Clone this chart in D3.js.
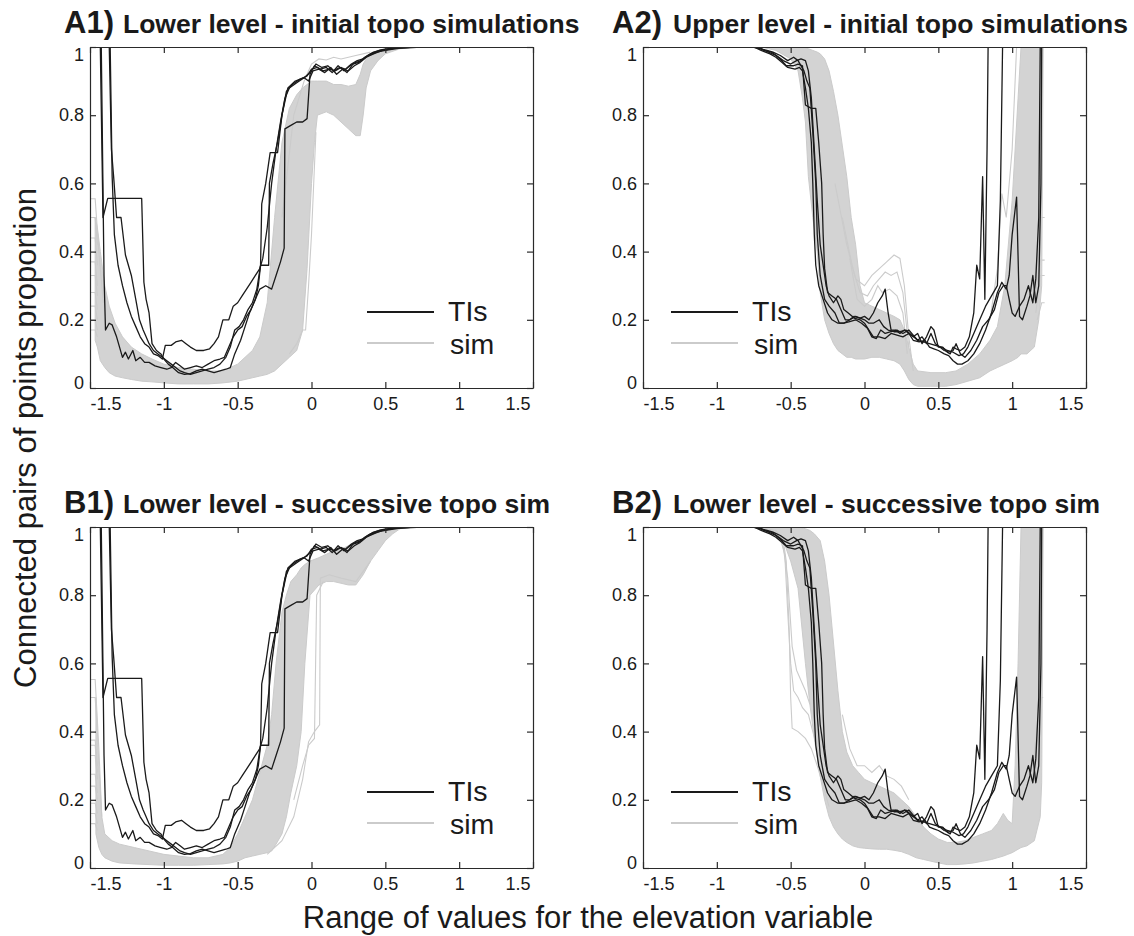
<!DOCTYPE html>
<html>
<head>
<meta charset="utf-8">
<script src="https://cdn.jsdelivr.net/npm/d3@7"></script>
<style>
  body { margin: 0; background: #fff; }
  text { font-family: "Liberation Sans", Arial, Helvetica, sans-serif; fill: #1a1a1a; }
</style>
</head>
<body>
<svg id="chart" width="1134" height="936"></svg>
<script>
// ---- data ----
const xTicks = [-1.5, -1, -0.5, 0, 0.5, 1, 1.5];
const yTicks = [0, 0.2, 0.4, 0.6, 0.8, 1];
const panelTags = ["A1)", "A2)", "B1)", "B2)"];
const panelTitles = [
  "Lower level - initial topo simulations",
  "Upper level - initial topo simulations",
  "Lower level - successive topo sim",
  "Lower level - successive topo sim"
];
const legendLabels = ["TIs", "sim"];
const xLabel = "Range of values for the elevation variable";
const yLabel = "Connected pairs of points proportion";

// training images, lower level (A1, B1)  [x, proportion]
const tiLower1 = [[-1.432,1.05],[-1.412,0.5],[-1.38,0.556],[-1.15,0.556],[-1.135,0.31],[-1.12,0.26],[-1.1,0.22],[-1.08,0.13],[-1.05,0.11],[-1.02,0.1],[-1,0.085],[-0.97,0.07],[-0.94,0.06],[-0.9,0.045],[-0.86,0.04],[-0.82,0.042],[-0.78,0.05],[-0.74,0.055],[-0.7,0.05],[-0.66,0.045],[-0.62,0.05],[-0.58,0.055],[-0.55,0.06],[-0.52,0.1],[-0.48,0.14],[-0.45,0.18],[-0.42,0.22],[-0.38,0.26],[-0.35,0.29],[-0.31,0.3],[-0.27,0.29],[-0.24,0.33],[-0.21,0.37],[-0.185,0.41],[-0.18,0.76],[-0.14,0.77],[-0.1,0.78],[-0.06,0.78],[-0.03,0.79],[-0.01,0.92],[0.02,0.945],[0.06,0.935],[0.1,0.94],[0.14,0.925],[0.18,0.945],[0.22,0.93],[0.26,0.945],[0.3,0.955],[0.34,0.96],[0.38,0.975],[0.42,0.985],[0.48,0.992],[0.55,0.997],[0.65,1],[1.37,1]];
const tiLower2 = [[-1.425,1.05],[-1.405,0.33],[-1.395,0.17],[-1.37,0.19],[-1.35,0.185],[-1.32,0.15],[-1.3,0.12],[-1.28,0.09],[-1.26,0.105],[-1.24,0.085],[-1.21,0.11],[-1.19,0.08],[-1.16,0.09],[-1.13,0.075],[-1.1,0.075],[-1.06,0.065],[-1.02,0.06],[-0.98,0.055],[-0.95,0.06],[-0.92,0.075],[-0.89,0.065],[-0.86,0.055],[-0.82,0.06],[-0.78,0.065],[-0.74,0.06],[-0.7,0.07],[-0.66,0.08],[-0.62,0.085],[-0.59,0.09],[-0.56,0.12],[-0.53,0.15],[-0.5,0.17],[-0.47,0.18],[-0.44,0.21],[-0.41,0.23],[-0.38,0.26],[-0.36,0.3],[-0.345,0.36],[-0.29,0.36],[-0.285,0.6],[-0.26,0.66],[-0.23,0.72],[-0.2,0.8],[-0.17,0.87],[-0.13,0.89],[-0.08,0.905],[-0.03,0.915],[0,0.935],[0.04,0.94],[0.08,0.93],[0.12,0.935],[0.16,0.93],[0.2,0.94],[0.24,0.925],[0.28,0.95],[0.32,0.955],[0.36,0.97],[0.4,0.98],[0.46,0.99],[0.55,0.997],[0.7,1],[1.37,1]];
const tiLower3 = [[-1.372,1.05],[-1.355,0.7],[-1.34,0.62],[-1.32,0.5],[-1.29,0.5],[-1.26,0.39],[-1.22,0.33],[-1.19,0.26],[-1.165,0.2],[-1.14,0.17],[-1.12,0.15],[-1.1,0.13],[-1.07,0.11],[-1.04,0.1],[-1.01,0.09],[-0.98,0.08],[-0.95,0.07],[-0.92,0.06],[-0.89,0.05],[-0.86,0.045],[-0.82,0.04],[-0.78,0.045],[-0.74,0.05],[-0.7,0.055],[-0.66,0.06],[-0.62,0.07],[-0.58,0.09],[-0.55,0.12],[-0.52,0.17],[-0.49,0.18],[-0.46,0.2],[-0.43,0.23],[-0.4,0.25],[-0.37,0.29],[-0.345,0.36],[-0.337,0.54],[-0.31,0.6],[-0.28,0.69],[-0.23,0.69],[-0.2,0.8],[-0.16,0.88],[-0.11,0.9],[-0.05,0.91],[-0.01,0.925],[0.03,0.95],[0.07,0.94],[0.11,0.945],[0.15,0.93],[0.19,0.94],[0.23,0.935],[0.27,0.95],[0.31,0.96],[0.35,0.965],[0.39,0.975],[0.44,0.985],[0.5,0.99],[0.6,0.997],[0.75,1],[1.37,1]];
const tiLower4 = [[-1.365,1.05],[-1.35,0.62],[-1.335,0.45],[-1.31,0.36],[-1.28,0.3],[-1.25,0.25],[-1.22,0.21],[-1.19,0.18],[-1.16,0.15],[-1.13,0.13],[-1.1,0.12],[-1.07,0.1],[-1.04,0.095],[-1.01,0.085],[-0.99,0.125],[-0.95,0.125],[-0.92,0.135],[-0.88,0.14],[-0.85,0.13],[-0.82,0.12],[-0.78,0.11],[-0.73,0.11],[-0.69,0.115],[-0.66,0.13],[-0.63,0.15],[-0.6,0.2],[-0.56,0.2],[-0.53,0.24],[-0.5,0.25],[-0.47,0.27],[-0.44,0.29],[-0.41,0.31],[-0.38,0.33],[-0.35,0.35],[-0.33,0.38],[-0.3,0.47],[-0.27,0.6],[-0.24,0.7],[-0.21,0.78],[-0.18,0.85],[-0.15,0.88],[-0.1,0.895],[-0.05,0.91],[-0.02,0.9],[0.01,0.93],[0.05,0.935],[0.09,0.925],[0.13,0.94],[0.17,0.92],[0.21,0.935],[0.25,0.93],[0.29,0.945],[0.33,0.955],[0.37,0.97],[0.42,0.98],[0.48,0.99],[0.56,0.996],[0.7,1],[1.37,1]];

// training images, upper level (A2, B2)
const tiUpper1 = [[-1.48,1],[-0.74,1],[-0.7,0.995],[-0.65,0.985],[-0.6,0.975],[-0.56,0.96],[-0.53,0.945],[-0.48,0.945],[-0.45,0.95],[-0.42,0.945],[-0.4,0.83],[-0.36,0.82],[-0.33,0.82],[-0.31,0.72],[-0.29,0.6],[-0.28,0.45],[-0.27,0.35],[-0.25,0.28],[-0.22,0.27],[-0.19,0.26],[-0.16,0.23],[-0.13,0.2],[-0.1,0.2],[-0.06,0.21],[-0.03,0.205],[0,0.21],[0.03,0.2],[0.06,0.22],[0.09,0.25],[0.12,0.27],[0.14,0.29],[0.16,0.22],[0.18,0.17],[0.21,0.17],[0.24,0.16],[0.27,0.17],[0.3,0.16],[0.33,0.15],[0.36,0.16],[0.39,0.13],[0.42,0.15],[0.45,0.18],[0.47,0.17],[0.5,0.12],[0.53,0.12],[0.56,0.105],[0.58,0.1],[0.6,0.12],[0.62,0.115],[0.65,0.11],[0.68,0.12],[0.71,0.15],[0.74,0.22],[0.76,0.36],[0.78,0.32],[0.8,0.62],[0.815,0.26],[0.83,0.7],[0.837,1],[1.38,1]];
const tiUpper2 = [[-1.48,1],[-0.76,1],[-0.72,0.997],[-0.66,0.99],[-0.62,0.985],[-0.57,0.975],[-0.52,0.96],[-0.48,0.97],[-0.45,0.96],[-0.41,0.93],[-0.39,0.9],[-0.37,0.88],[-0.35,0.75],[-0.33,0.6],[-0.32,0.45],[-0.3,0.33],[-0.27,0.26],[-0.24,0.24],[-0.2,0.22],[-0.17,0.19],[-0.14,0.19],[-0.1,0.2],[-0.07,0.21],[-0.03,0.205],[0,0.2],[0.03,0.19],[0.06,0.19],[0.1,0.2],[0.13,0.18],[0.16,0.17],[0.2,0.165],[0.24,0.165],[0.28,0.17],[0.32,0.155],[0.36,0.14],[0.4,0.135],[0.44,0.13],[0.48,0.125],[0.52,0.12],[0.56,0.11],[0.6,0.105],[0.64,0.095],[0.67,0.1],[0.7,0.12],[0.74,0.16],[0.78,0.2],[0.82,0.24],[0.86,0.27],[0.9,0.3],[0.92,0.55],[0.935,1],[1.38,1]];
const tiUpper3 = [[-1.48,1],[-0.73,1],[-0.68,0.99],[-0.63,0.985],[-0.58,0.97],[-0.55,0.96],[-0.5,0.95],[-0.46,0.96],[-0.43,0.965],[-0.4,0.96],[-0.38,0.93],[-0.36,0.85],[-0.34,0.7],[-0.32,0.55],[-0.3,0.42],[-0.28,0.36],[-0.26,0.3],[-0.24,0.27],[-0.21,0.25],[-0.18,0.27],[-0.16,0.26],[-0.14,0.23],[-0.11,0.22],[-0.07,0.205],[-0.03,0.2],[0,0.19],[0.03,0.17],[0.06,0.15],[0.1,0.15],[0.14,0.145],[0.18,0.16],[0.22,0.155],[0.26,0.15],[0.3,0.16],[0.33,0.14],[0.37,0.135],[0.41,0.14],[0.44,0.12],[0.47,0.115],[0.5,0.11],[0.54,0.1],[0.57,0.095],[0.6,0.08],[0.63,0.07],[0.66,0.07],[0.7,0.08],[0.74,0.1],[0.78,0.13],[0.82,0.17],[0.86,0.22],[0.9,0.28],[0.93,0.31],[0.96,0.29],[0.98,0.33],[1,0.45],[1.03,0.56],[1.05,0.21],[1.07,0.2],[1.1,0.24],[1.12,0.27],[1.14,0.33],[1.16,0.25],[1.18,0.3],[1.195,0.6],[1.2,1],[1.38,1]];
const tiUpper4 = [[-1.48,1],[-0.75,1],[-0.7,0.99],[-0.64,0.98],[-0.6,0.97],[-0.56,0.955],[-0.52,0.94],[-0.47,0.935],[-0.44,0.94],[-0.42,0.93],[-0.4,0.88],[-0.38,0.82],[-0.36,0.72],[-0.35,0.6],[-0.34,0.45],[-0.33,0.36],[-0.31,0.3],[-0.28,0.26],[-0.25,0.22],[-0.22,0.2],[-0.18,0.19],[-0.14,0.19],[-0.1,0.195],[-0.06,0.2],[-0.02,0.19],[0.02,0.175],[0.05,0.15],[0.08,0.145],[0.11,0.17],[0.14,0.16],[0.18,0.165],[0.22,0.17],[0.26,0.16],[0.3,0.17],[0.33,0.155],[0.36,0.14],[0.39,0.15],[0.42,0.13],[0.45,0.16],[0.48,0.13],[0.51,0.12],[0.54,0.11],[0.57,0.105],[0.6,0.11],[0.62,0.13],[0.65,0.1],[0.68,0.09],[0.72,0.11],[0.76,0.14],[0.8,0.18],[0.84,0.2],[0.88,0.23],[0.91,0.28],[0.94,0.3],[0.96,0.3],[0.98,0.26],[1,0.22],[1.02,0.21],[1.05,0.24],[1.08,0.26],[1.11,0.3],[1.14,0.25],[1.16,0.32],[1.18,0.5],[1.19,1],[1.38,1]];

// simulation bundles: [x, lowest sim, highest sim]
const simBandA1 = [[-1.465,0.14,0.5],[-1.45,0.12,0.47],[-1.43,0.08,0.4],[-1.4,0.06,0.3],[-1.37,0.045,0.24],[-1.33,0.035,0.19],[-1.28,0.03,0.15],[-1.22,0.025,0.12],[-1.15,0.02,0.1],[-1.08,0.018,0.085],[-1,0.015,0.07],[-0.9,0.012,0.06],[-0.8,0.012,0.055],[-0.7,0.012,0.05],[-0.6,0.015,0.05],[-0.5,0.02,0.07],[-0.45,0.025,0.09],[-0.4,0.03,0.11],[-0.35,0.035,0.15],[-0.3,0.04,0.25],[-0.25,0.05,0.5],[-0.2,0.07,0.72],[-0.15,0.09,0.82],[-0.1,0.11,0.86],[-0.06,0.17,0.88],[-0.03,0.35,0.89],[0,0.6,0.9],[0.02,0.72,0.9],[0.04,0.8,0.9],[0.1,0.81,0.9],[0.15,0.8,0.89],[0.2,0.78,0.89],[0.25,0.76,0.885],[0.3,0.74,0.89],[0.33,0.74,0.92],[0.35,0.8,0.95],[0.37,0.88,0.965],[0.4,0.93,0.975],[0.45,0.96,0.99],[0.5,0.98,0.995],[0.6,0.995,1],[0.75,1,1]];
const simBandA2 = [[-1.5,1,1],[-0.7,1,1],[-0.6,0.99,1],[-0.5,0.965,1],[-0.45,0.93,1],[-0.42,0.85,1],[-0.4,0.78,0.998],[-0.38,0.62,0.995],[-0.35,0.5,0.99],[-0.32,0.4,0.985],[-0.3,0.28,0.98],[-0.27,0.2,0.965],[-0.24,0.16,0.93],[-0.21,0.13,0.87],[-0.18,0.11,0.8],[-0.15,0.1,0.71],[-0.12,0.09,0.62],[-0.09,0.09,0.5],[-0.06,0.085,0.42],[-0.03,0.085,0.3],[0,0.085,0.25],[0.05,0.09,0.24],[0.1,0.09,0.23],[0.15,0.085,0.22],[0.2,0.08,0.21],[0.24,0.07,0.2],[0.27,0.05,0.17],[0.3,0.025,0.12],[0.33,0.01,0.07],[0.36,0.005,0.05],[0.45,0.005,0.045],[0.55,0.005,0.045],[0.62,0.01,0.05],[0.7,0.02,0.07],[0.78,0.03,0.1],[0.85,0.05,0.14],[0.9,0.06,0.18],[0.95,0.07,0.3],[1,0.08,0.55],[1.04,0.09,0.85],[1.06,0.1,1],[1.1,0.1,1],[1.15,0.12,1],[1.18,0.2,1],[1.2,0.3,1],[1.21,1,1]];
const simBandB1 = [[-1.46,0.1,0.5],[-1.44,0.06,0.3],[-1.42,0.04,0.15],[-1.4,0.03,0.1],[-1.35,0.02,0.08],[-1.3,0.015,0.07],[-1.2,0.012,0.06],[-1.1,0.01,0.05],[-1,0.008,0.04],[-0.9,0.008,0.035],[-0.8,0.008,0.03],[-0.7,0.01,0.03],[-0.6,0.012,0.04],[-0.55,0.015,0.06],[-0.5,0.02,0.1],[-0.45,0.03,0.15],[-0.4,0.035,0.2],[-0.35,0.04,0.28],[-0.3,0.045,0.36],[-0.27,0.05,0.45],[-0.24,0.07,0.6],[-0.2,0.1,0.75],[-0.17,0.15,0.8],[-0.14,0.22,0.84],[-0.1,0.3,0.86],[-0.07,0.4,0.88],[-0.045,0.6,0.89],[-0.01,0.8,0.9],[0.05,0.83,0.91],[0.1,0.84,0.92],[0.15,0.84,0.93],[0.2,0.835,0.935],[0.25,0.83,0.945],[0.3,0.83,0.955],[0.35,0.86,0.965],[0.4,0.9,0.978],[0.45,0.93,0.99],[0.5,0.96,0.995],[0.55,0.98,1],[0.6,0.995,1],[0.7,1,1]];
const simBandB2 = [[-1.5,1,1],[-0.75,1,1],[-0.65,0.99,1],[-0.55,0.96,1],[-0.5,0.9,1],[-0.45,0.82,1],[-0.4,0.6,0.995],[-0.37,0.48,0.99],[-0.34,0.38,0.98],[-0.3,0.27,0.96],[-0.27,0.2,0.9],[-0.24,0.15,0.8],[-0.21,0.12,0.66],[-0.18,0.1,0.52],[-0.15,0.085,0.4],[-0.12,0.075,0.34],[-0.08,0.065,0.3],[-0.04,0.06,0.28],[0,0.058,0.26],[0.05,0.056,0.25],[0.1,0.055,0.24],[0.15,0.055,0.23],[0.2,0.052,0.22],[0.25,0.048,0.2],[0.3,0.04,0.18],[0.35,0.03,0.15],[0.4,0.025,0.12],[0.45,0.02,0.1],[0.5,0.015,0.085],[0.56,0.01,0.075],[0.62,0.01,0.075],[0.68,0.012,0.08],[0.74,0.015,0.09],[0.8,0.02,0.1],[0.86,0.025,0.11],[0.9,0.03,0.13],[0.94,0.035,0.16],[0.97,0.04,0.14],[1,0.045,0.13],[1.02,0.05,0.3],[1.04,0.055,0.6],[1.06,0.06,1],[1.1,0.065,1],[1.15,0.08,1],[1.19,0.15,1],[1.2,0.25,1],[1.21,1,1]];

// single simulations standing out of the bundles
const simLinesA1 = [
  [[-1.5,0.555],[-1.465,0.555],[-1.44,0.4],[-1.41,0.25]],
  [[-1.5,0.5],[-1.465,0.5],[-1.45,0.42]],
  [[-1.5,0.44],[-1.465,0.44],[-1.45,0.36]],
  [[-1.5,0.37],[-1.465,0.37],[-1.45,0.3]],
  [[-1.5,0.33],[-1.465,0.33],[-1.45,0.27]],
  [[-1.5,0.28],[-1.465,0.28],[-1.45,0.23]],
  [[-1.5,0.24],[-1.465,0.24],[-1.45,0.2]],
  [[-1.5,0.2],[-1.465,0.2],[-1.45,0.17]],
  [[-1.5,0.17],[-1.465,0.17],[-1.45,0.15]],
  [[-0.2,0.5],[-0.12,0.8],[-0.05,0.9],[0,0.95],[0.05,0.965],[0.1,0.962],[0.15,0.97],[0.2,0.965],[0.25,0.97],[0.3,0.975],[0.4,0.985]],
  [[-0.15,0.1],[-0.1,0.13],[-0.06,0.17],[-0.04,0.17],[-0.02,0.3],[0,0.45],[0.03,0.75]]
];
const simLinesA2 = [
  [[-0.2,0.6],[-0.12,0.42],[-0.06,0.32],[0,0.3],[0.05,0.33],[0.1,0.35],[0.15,0.37],[0.2,0.39],[0.24,0.38],[0.27,0.3],[0.3,0.15],[0.33,0.05]],
  [[-0.15,0.5],[-0.08,0.35],[-0.03,0.28],[0.02,0.27],[0.06,0.3],[0.1,0.32],[0.14,0.34],[0.18,0.33],[0.22,0.34],[0.26,0.28],[0.3,0.12]],
  [[-0.1,0.38],[-0.05,0.26],[0,0.24],[0.05,0.26],[0.09,0.3],[0.12,0.28],[0.17,0.29],[0.22,0.27],[0.26,0.22],[0.29,0.1]],
  [[0.85,0.2],[0.9,0.35],[0.93,0.57],[0.96,0.5],[1,0.7],[1.03,1]],
  [[1.15,0.3],[1.19,0.5],[1.22,0.5]],
  [[1.15,0.25],[1.19,0.375],[1.22,0.375]],
  [[1.16,0.22],[1.19,0.33],[1.22,0.33]],
  [[1.17,0.2],[1.2,0.25],[1.22,0.25]]
];
const simLinesB1 = [
  [[-1.5,0.553],[-1.465,0.553],[-1.44,0.35],[-1.42,0.15]],
  [[-1.5,0.5],[-1.465,0.5],[-1.45,0.4]],
  [[-1.5,0.375],[-1.465,0.375],[-1.45,0.3]],
  [[-1.5,0.36],[-1.465,0.36],[-1.45,0.28]],
  [[-1.5,0.33],[-1.465,0.33],[-1.45,0.26]],
  [[-1.5,0.275],[-1.465,0.275],[-1.45,0.22]],
  [[-1.5,0.24],[-1.465,0.24],[-1.45,0.2]],
  [[-1.5,0.19],[-1.465,0.19],[-1.45,0.16]],
  [[-1.5,0.16],[-1.465,0.16],[-1.45,0.13]],
  [[-1.5,0.13],[-1.465,0.13],[-1.45,0.11]],
  [[-0.3,0.04],[-0.2,0.08],[-0.12,0.15],[-0.06,0.26],[-0.02,0.37],[0.02,0.4],[0.055,0.42],[0.06,0.85],[0.12,0.86],[0.2,0.85],[0.3,0.84],[0.4,0.9]],
  [[-0.12,0.2],[-0.06,0.3],[-0.02,0.36],[0.02,0.38],[0.035,0.8],[0.08,0.84]]
];
const simLinesB2 = [
  [[-0.75,1],[-0.6,0.99],[-0.55,0.96],[-0.53,0.9],[-0.51,0.7],[-0.5,0.5],[-0.49,0.41],[-0.45,0.4],[-0.4,0.38],[-0.36,0.35],[-0.32,0.3],[-0.28,0.24],[-0.24,0.18]],
  [[-0.7,1],[-0.58,0.98],[-0.54,0.92],[-0.52,0.75],[-0.5,0.6],[-0.48,0.52],[-0.45,0.5],[-0.42,0.47],[-0.38,0.45],[-0.35,0.4],[-0.3,0.32],[-0.26,0.25]],
  [[-0.65,0.99],[-0.56,0.97],[-0.52,0.85],[-0.49,0.65],[-0.46,0.58],[-0.43,0.55],[-0.4,0.52],[-0.37,0.48]],
  [[-0.15,0.45],[-0.1,0.35],[-0.05,0.3],[0,0.3],[0.05,0.28],[0.1,0.3],[0.15,0.27],[0.2,0.26],[0.25,0.24],[0.3,0.2]],
  [[1.14,0.3],[1.18,0.45],[1.2,0.5],[1.21,0.5]]
];

// ---- layout ----
const W = 443, H = 341;
const panels = [
  {left: 90,  top: 47,  tagX: 64,  titleX: 123, legendX: 367, ti: [tiLower1, tiLower2, tiLower3, tiLower4], band: simBandA1, sims: simLinesA1},
  {left: 643, top: 47,  tagX: 612, titleX: 673, legendX: 671, ti: [tiUpper1, tiUpper2, tiUpper3, tiUpper4], band: simBandA2, sims: simLinesA2},
  {left: 90,  top: 527, tagX: 64,  titleX: 123, legendX: 367, ti: [tiLower1, tiLower2, tiLower3, tiLower4], band: simBandB1, sims: simLinesB1},
  {left: 643, top: 527, tagX: 612, titleX: 673, legendX: 671, ti: [tiUpper1, tiUpper2, tiUpper3, tiUpper4], band: simBandB2, sims: simLinesB2}
];

const svg = d3.select("#chart");
const simColor = "#cbcbcb", tiColor = "#1a1a1a", axisColor = "#2a2a2a";

panels.forEach((p, i) => {
  const x = d3.scaleLinear().domain([-1.5, 1.5]).range([p.left, p.left + W]);
  const y = d3.scaleLinear().domain([0, 1]).range([p.top + H, p.top]);
  const g = svg.append("g");

  g.append("clipPath").attr("id", "clip" + i)
    .append("rect").attr("x", p.left).attr("y", p.top).attr("width", W).attr("height", H);
  const plot = g.append("g").attr("clip-path", `url(#clip${i})`);

  //sim bundle
  const area = d3.area().x(d => x(d[0])).y0(d => y(d[1])).y1(d => y(d[2]));
  plot.append("path").datum(p.band).attr("d", area)
    .attr("fill", "#d3d3d3").attr("stroke", simColor).attr("stroke-width", 1);

  const line = d3.line().x(d => x(d[0])).y(d => y(d[1]));
  plot.selectAll(".sim").data(p.sims).join("path").attr("class", "sim")
    .attr("d", line).attr("fill", "none").attr("stroke", simColor).attr("stroke-width", 1.1);

  //TIs on top
  plot.selectAll(".ti").data(p.ti).join("path").attr("class", "ti")
    .attr("d", line).attr("fill", "none").attr("stroke", tiColor).attr("stroke-width", 1.3)
    .attr("stroke-linejoin", "round");

  //legend
  const ly = p.top + 265;
  g.append("line").attr("x1", p.legendX).attr("x2", p.legendX + 67).attr("y1", ly).attr("y2", ly)
    .attr("stroke", tiColor).attr("stroke-width", 1.8);
  g.append("line").attr("x1", p.legendX).attr("x2", p.legendX + 67).attr("y1", ly + 31).attr("y2", ly + 31)
    .attr("stroke", simColor).attr("stroke-width", 1.8);
  g.append("text").attr("x", p.legendX + 81).attr("y", ly + 9).attr("font-size", 28.5).text(legendLabels[0]);
  g.append("text").attr("x", p.legendX + 83).attr("y", ly + 42).attr("font-size", 28.5).text(legendLabels[1]);

  //axes, ticks inside on all four sides
  const fmt = d => String(d);
  const bx = g.append("g").attr("transform", `translate(0,${p.top + H})`)
    .call(d3.axisBottom(x).tickValues(xTicks).tickSize(-6).tickSizeOuter(0).tickPadding(9).tickFormat(fmt));
  bx.selectAll("text").filter((d, k) => k === 0).attr("text-anchor", "start");
  bx.selectAll("text").filter((d, k) => k === xTicks.length - 1).attr("text-anchor", "end").attr("x", -3);

  const ly2 = g.append("g").attr("transform", `translate(${p.left},0)`)
    .call(d3.axisLeft(y).tickValues(yTicks).tickSize(-6).tickSizeOuter(0).tickPadding(6).tickFormat(fmt));
  ly2.selectAll("text").filter(d => d === 1).attr("y", 8);
  ly2.selectAll("text").filter(d => d === 0).attr("y", -5);

  g.append("g").attr("transform", `translate(0,${p.top})`)
    .call(d3.axisTop(x).tickValues(xTicks).tickSize(-6).tickSizeOuter(0).tickFormat(""));
  g.append("g").attr("transform", `translate(${p.left + W},0)`)
    .call(d3.axisRight(y).tickValues(yTicks).tickSize(-6).tickSizeOuter(0).tickFormat(""));

  g.selectAll(".domain, .tick line").attr("stroke", axisColor).attr("stroke-width", 1.2);
  g.selectAll(".tick text").attr("font-size", 18).attr("font-family", '"Liberation Sans", Arial, sans-serif').attr("fill", "#1a1a1a");

  //panel title
  const ty = p.top - 14;
  g.append("text").attr("x", p.tagX).attr("y", ty).attr("font-size", 31).attr("font-weight", "bold").text(panelTags[i]);
  g.append("text").attr("x", p.titleX).attr("y", ty).attr("font-size", 26.5).attr("font-weight", "bold").text(panelTitles[i]);
});

svg.append("text").attr("x", 588).attr("y", 928).attr("text-anchor", "middle")
  .attr("font-size", 31).text(xLabel);
svg.append("text").attr("transform", "translate(36,438) rotate(-90)").attr("text-anchor", "middle")
  .attr("font-size", 31).text(yLabel);
</script>
</body>
</html>
